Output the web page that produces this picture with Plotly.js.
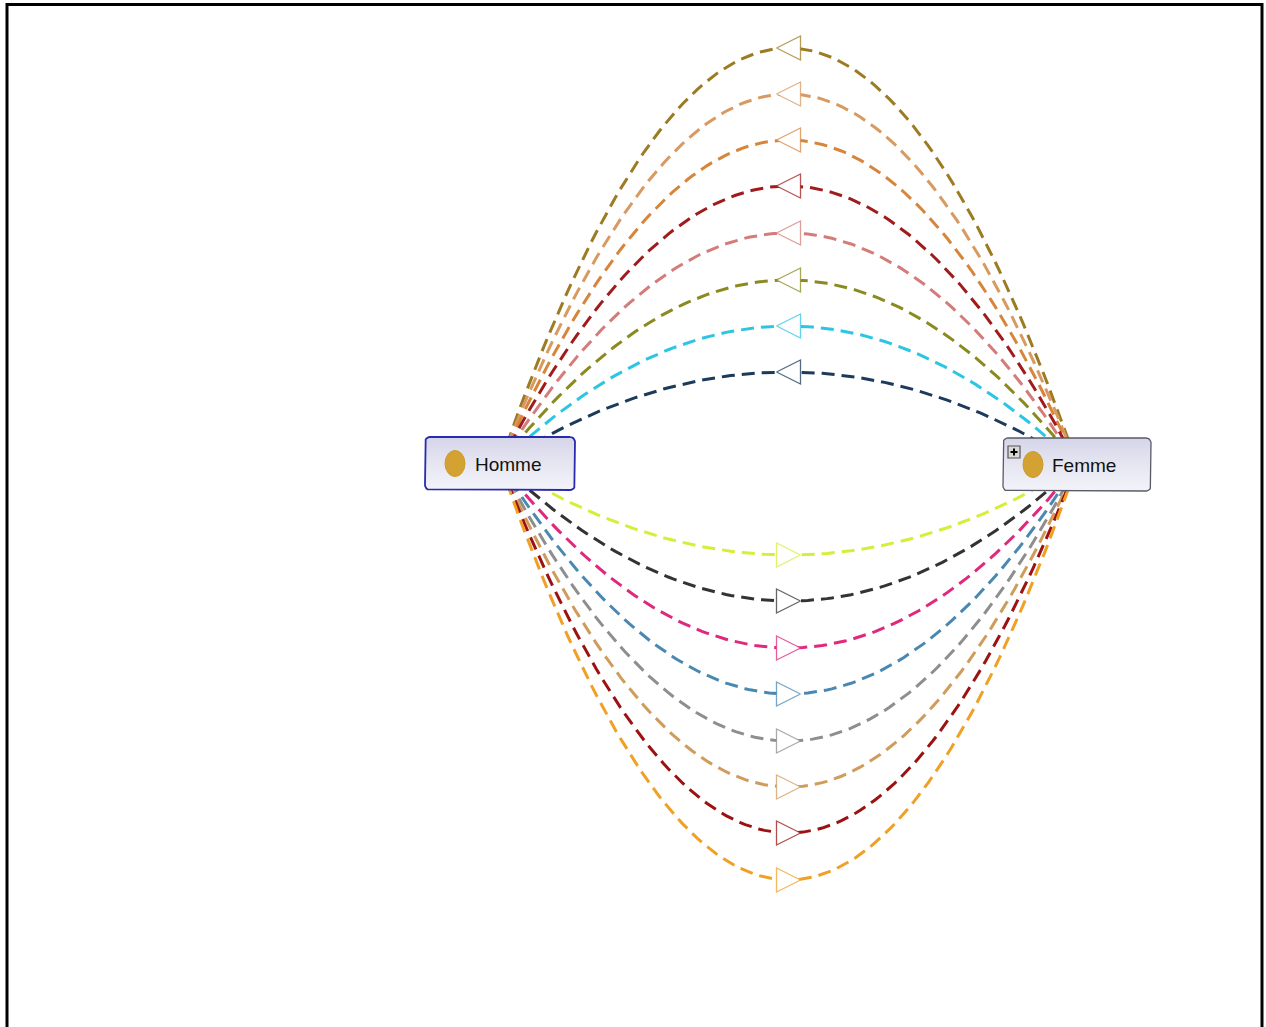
<!DOCTYPE html>
<html><head><meta charset="utf-8">
<script src="https://cdn.plot.ly/plotly-3.0.1.min.js"></script>
<style>html,body{margin:0;padding:0;background:#fff;} #chart{width:1266px;height:1027px;}</style>
</head><body><div id="chart"></div>
<script>
// ---- data ----
const nodeNames = ['Homme', 'Femme'];
// relations Femme -> Homme (upper arcs): apex level of each arc, and colour
const upperArcApex = [48, 94, 140, 186, 233, 280, 326, 372];
const upperArcColor = ['#9c7b22', '#d89a60', '#d8853c', '#a01c1c', '#d47c7a', '#8a8a20', '#2cc6e4', '#1c3a5a'];
// relations Homme -> Femme (lower arcs)
const lowerArcApex = [555, 601, 648, 694, 741, 787, 833, 880];
const lowerArcColor = ['#d6ee38', '#333333', '#e0287c', '#4a88b2', '#8e8e8e', '#d09c5c', '#9c1212', '#f0a024'];

// ---- geometry (layout) ----
const W = 1266, H = 1027;
const boxes = {
  Homme: {x0: 425, y0: 437, x1: 575, y1: 490, border: '#2a2ab0', bw: 1.8},
  Femme: {x0: 1003, y0: 438, x1: 1151, y1: 491, border: '#5a5a66', bw: 1.3}
};
function center(b){ return [(b.x0+b.x1)/2, (b.y0+b.y1)/2]; }
const cH = center(boxes.Homme), cF = center(boxes.Femme);

function arcPoints(p0, p2, apexY){
  const mx = (p0[0]+p2[0])/2;
  const cy = 2*apexY - (p0[1]+p2[1])/2;
  const xs=[], ys=[];
  const N = 120;
  for(let i=0;i<=N;i++){
    const t=i/N, a=(1-t)*(1-t), b=2*t*(1-t), c=t*t;
    xs.push(a*p0[0]+b*mx+c*p2[0]);
    ys.push(a*p0[1]+b*cy+c*p2[1]);
  }
  return {xs, ys, mx};
}
function hexToRgba(h, a){
  const r=parseInt(h.slice(1,3),16), g=parseInt(h.slice(3,5),16), b=parseInt(h.slice(5,7),16);
  return `rgba(${r},${g},${b},${a})`;
}
function roundRect(x0,y0,x1,y1,r){
  const xs=[], ys=[];
  const corners=[[x1-r,y0+r,-Math.PI/2,0],[x1-r,y1-r,0,Math.PI/2],[x0+r,y1-r,Math.PI/2,Math.PI],[x0+r,y0+r,Math.PI,1.5*Math.PI]];
  corners.forEach(([cx,cy,a0,a1])=>{
    for(let i=0;i<=6;i++){ const a=a0+(a1-a0)*i/6; xs.push(cx+r*Math.cos(a)); ys.push(cy+r*Math.sin(a)); }
  });
  xs.push(xs[0]); ys.push(ys[0]);
  return {xs, ys};
}

const traces = [];
const tri = [];
function addArc(p0, p2, apex, color, pointLeft){
  const a = arcPoints(p0, p2, apex);
  traces.push({x:a.xs, y:a.ys, mode:'lines', line:{color:color, width:3, dash:'13px,7px'}, hoverinfo:'skip'});
  const cx = a.mx, h = 12, w = 12;
  let tx, ty;
  if(pointLeft){ tx=[cx-w, cx+w, cx+w, cx-w]; ty=[apex, apex-h, apex+h, apex]; }
  else { tx=[cx+w, cx-w, cx-w, cx+w]; ty=[apex, apex-h, apex+h, apex]; }
  tri.push({x:tx, y:ty, mode:'lines', fill:'toself', fillcolor:'#ffffff', line:{color:hexToRgba(color,0.75), width:1.3}, hoverinfo:'skip'});
}
upperArcApex.forEach((ap,i)=> addArc(cH, cF, ap, upperArcColor[i], true));
lowerArcApex.forEach((ap,i)=> addArc(cH, cF, ap, lowerArcColor[i], false));
traces.push(...tri);

// node boxes
nodeNames.forEach(n=>{
  const b = boxes[n];
  const rr = roundRect(b.x0, b.y0, b.x1, b.y1, 5);
  traces.push({x:rr.xs, y:rr.ys, mode:'lines', fill:'toself',
    fillgradient:{type:'vertical', colorscale:[[0,'#f3f3fa'],[0.5,'#e6e6f2'],[1,'#d5d5e9']]},
    line:{color:b.border, width:b.bw}, hoverinfo:'skip'});
});

const shapes = [];
const annotations = [];
// node icons and labels
const iconPos = {Homme: 455, Femme: 1033};
const textPos = {Homme: 473, Femme: 1050};
nodeNames.forEach(n=>{
  const b = boxes[n], cy = (b.y0+b.y1)/2;
  const ix = iconPos[n];
  shapes.push({type:'circle', xref:'x', yref:'y', x0:ix-10, x1:ix+10, y0:cy-13, y1:cy+13,
    fillcolor:'#d4a232', line:{color:'#c99a2e', width:1}});
  annotations.push({x:textPos[n], y:cy+1, xref:'x', yref:'y', text:n, showarrow:false, xanchor:'left', yanchor:'middle',
    font:{family:'"Liberation Sans", Arial, sans-serif', size:19, color:'#111111'}});
});
// "+" expander on Femme
shapes.push({type:'rect', x0:1008, x1:1020, y0:446, y1:458, fillcolor:'#d8d8d8', line:{color:'#555555', width:1.2}});
shapes.push({type:'line', x0:1010.5, x1:1017.5, y0:452, y1:452, line:{color:'#000', width:2}});
shapes.push({type:'line', x0:1014, x1:1014, y0:448.5, y1:455.5, line:{color:'#000', width:2}});
// frame
shapes.push({type:'path', path:`M 7 ${H} L 7 4.5 L 1262 4.5 L 1262 ${H}`, line:{color:'#000', width:3}, layer:'above'});

const layout = {
  width: W, height: H, margin:{l:0,r:0,t:0,b:0},
  paper_bgcolor:'#ffffff', plot_bgcolor:'#ffffff', showlegend:false,
  xaxis:{range:[0,W], visible:false, fixedrange:true},
  yaxis:{range:[H,0], visible:false, fixedrange:true},
  shapes, annotations
};
Plotly.newPlot('chart', traces, layout, {staticPlot:true, displayModeBar:false});
</script>
</body></html>
